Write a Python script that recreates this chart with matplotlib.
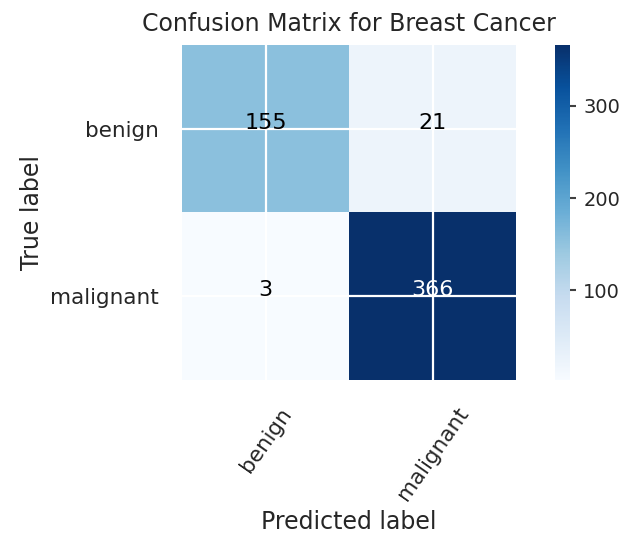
import numpy as np
import matplotlib
matplotlib.use("Agg")
import matplotlib.pyplot as plt

classes = ["benign", "malignant"]
cm = np.array([[155, 21],
               [3, 366]])
cbar_ticks = [100, 200, 300]
title = "Confusion Matrix for Breast Cancer"

plt.rcParams['font.family'] = ['DejaVu Sans']
txt = '0.15'

fig = plt.figure(figsize=(6.32, 5.33), dpi=100)
ax = fig.add_axes([182/632, 1-380/533, 334/632, 335/533])
cax = fig.add_axes([555/632, 1-380/533, 15/632, 335/533])

im = ax.imshow(cm, interpolation='nearest', cmap='Blues', aspect='auto')
ax.set_xticks(range(len(classes)))
ax.set_yticks(range(len(classes)))
ax.set_xticklabels(classes, rotation=55, fontsize=15.5, color=txt)
ax.set_yticklabels(classes, fontsize=15.5, color=txt)
ax.tick_params(length=0, pad=17)
ax.grid(True, color='white', linewidth=1.6)
for s in ax.spines.values():
    s.set_visible(False)

thresh = cm.max() / 2.
for i in range(cm.shape[0]):
    for j in range(cm.shape[1]):
        ax.text(j, i, format(cm[i, j], 'd'), ha='center', va='baseline',
                fontsize=16, color='white' if cm[i, j] > thresh else 'black')

ax.set_title(title, fontsize=17, color=txt, pad=10)
ax.set_ylabel("True label", fontsize=17, color=txt)
ax.set_xlabel("Predicted label", fontsize=17, color=txt)

cb = fig.colorbar(im, cax=cax, ticks=cbar_ticks)
cb.outline.set_visible(False)
cax.tick_params(length=4.5, width=1.5, color='0.25', labelsize=14, labelcolor=txt, pad=5)

fig.savefig("out.png", dpi=100, facecolor='white')
